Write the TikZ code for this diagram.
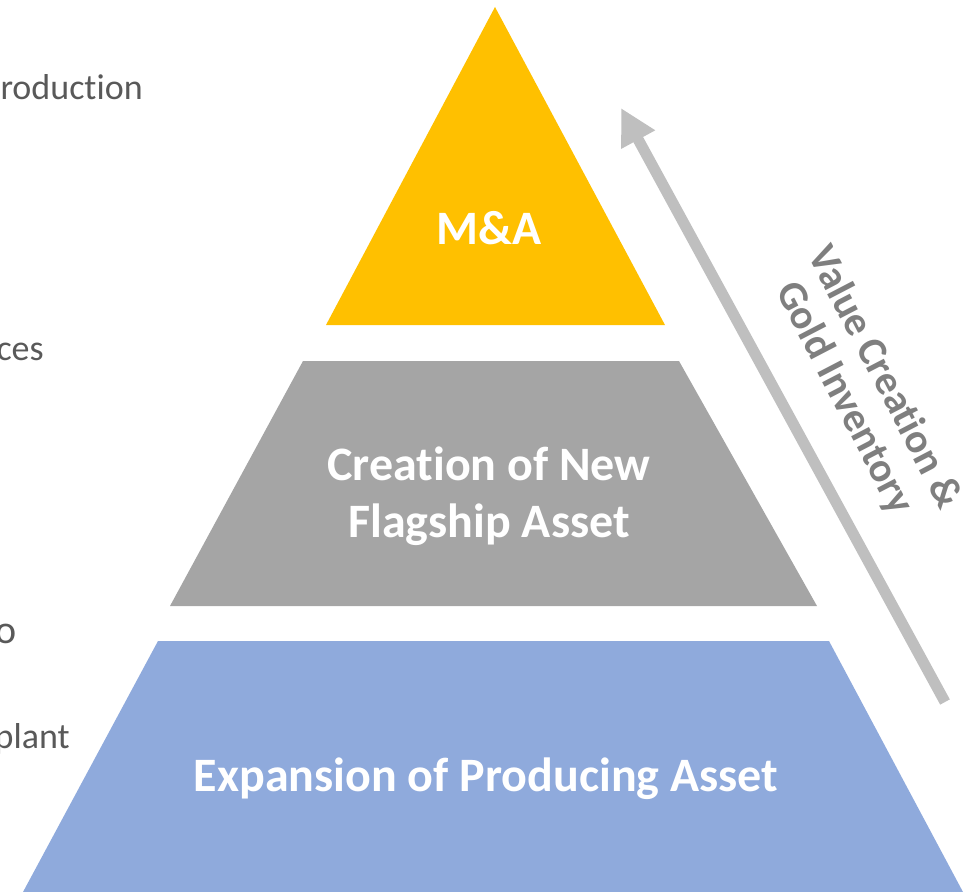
\documentclass[tikz,border=0pt]{standalone}
\usepackage{fontspec}
\setmainfont{Carlito}[Ligatures=NoCommon]
\usetikzlibrary{arrows.meta}
\definecolor{maYellow}{HTML}{FFC000}
\definecolor{midGray}{HTML}{A5A5A5}
\definecolor{baseBlue}{HTML}{8FAADC}
\definecolor{arrowGray}{HTML}{BFBFBF}
\definecolor{labelGray}{HTML}{7F7F7F}
\definecolor{sideGray}{HTML}{595959}
\tikzset{
  tier/.style={draw=none},
  tierlabel/.style={text=white, font=\fontsize{36}{43}\selectfont\bfseries, align=center, inner sep=0pt},
  sidetext/.style={text=sideGray, font=\fontsize{27}{32}\selectfont, inner sep=0pt, anchor=base east},
  valuearrow/.style={draw=arrowGray, line width=8.25pt, -{Triangle[length=27pt,width=27pt]}},
  valuelabel/.style={text=labelGray, font=\fontsize{31}{34}\selectfont\bfseries, align=center, inner sep=0pt}
}
\begin{document}
\begin{tikzpicture}[x=0.75pt,y=-0.75pt]
\useasboundingbox (0,0) rectangle (965,892);
% tiers
\fill[tier, maYellow] (495,7) -- (665,325) -- (326,325) -- cycle;
\fill[tier, midGray] (303,361) -- (679,361) -- (817,606) -- (170,606) -- cycle;
\fill[tier, baseBlue] (158,641) -- (829,641) -- (963,892) -- (23,892) -- cycle;
% tier labels
\node[tierlabel] (ma) at (489,228) {M\&A};
\node[tierlabel] (flag) at (489,496) {Creation of New\\Flagship Asset};
\node[tierlabel] (expand) at (486,779) {Expansion of Producing Asset};
% arrow
\coordinate (arrS) at (945,702);
\coordinate (arrE) at (621,108);
\draw[valuearrow] (arrS) -- (arrE);
\node[valuelabel, rotate=-62.5] (value) at (864,388) {Value Creation \&\\Gold Inventory};
% cut-off side texts
\node[sidetext] (s1) at (143,100) {roduction};
\node[sidetext] (s2) at (44,360) {ces};
\node[sidetext, font=\fontsize{30}{36}\selectfont] (s3) at (17,643) {o};
\node[sidetext] (s4) at (70,748) {plant};
\end{tikzpicture}
\end{document}
